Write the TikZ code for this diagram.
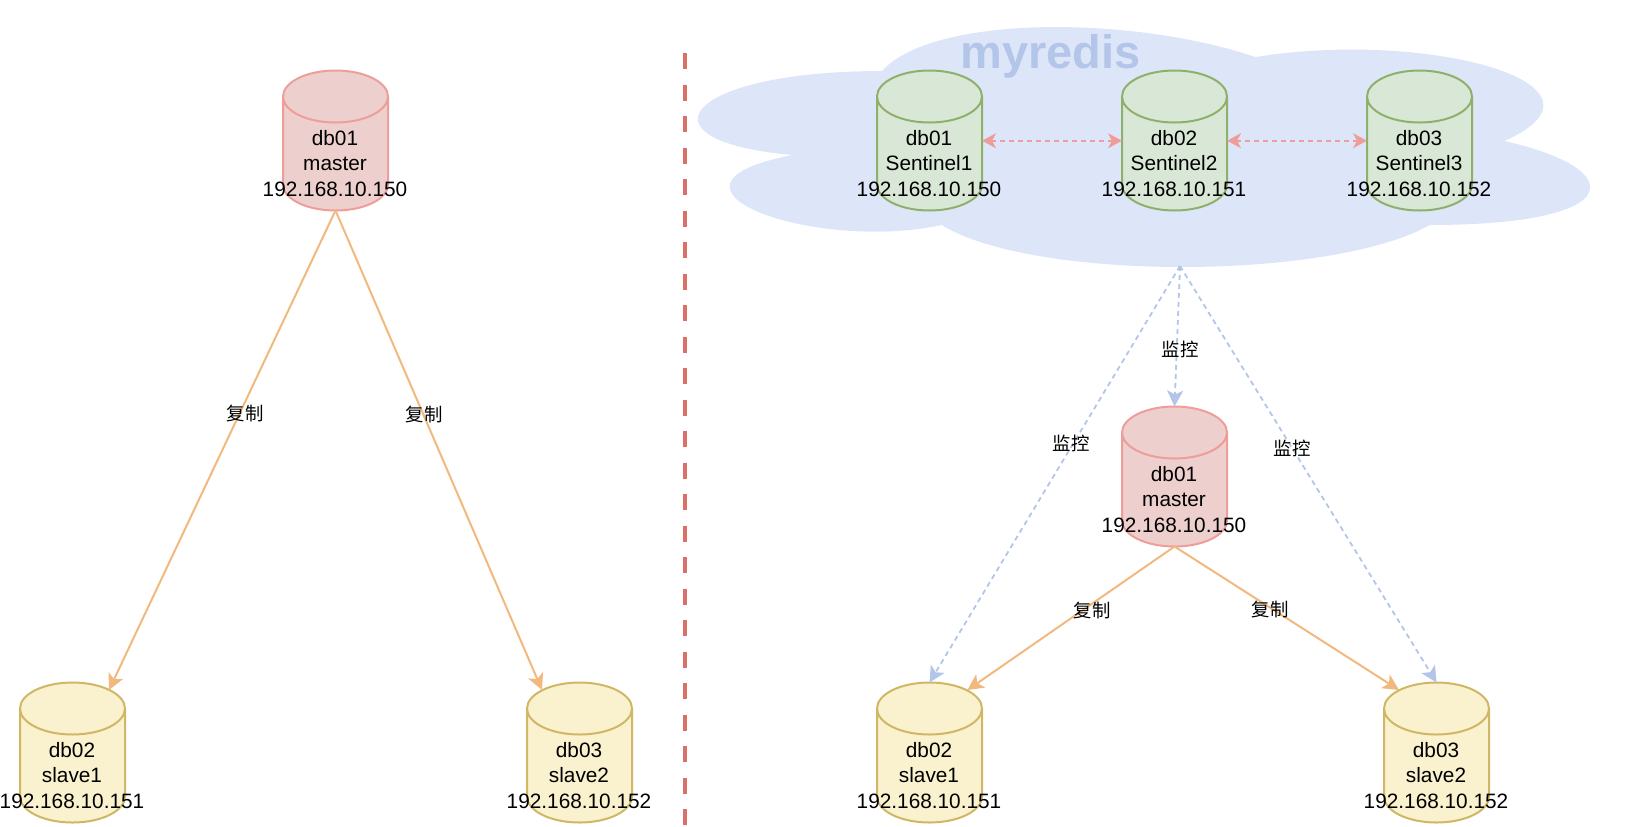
\documentclass[tikz,border=0pt]{standalone}
\usepackage{fontspec}
\setmainfont{Liberation Sans}
\newfontfamily\cjkfont{Noto Sans CJK SC}
\usetikzlibrary{arrows.meta,shapes.geometric}
\definecolor{cloudblue}{HTML}{DDE6F9}
\definecolor{titleblue}{HTML}{B3C5E8}
\definecolor{pinkfill}{HTML}{EDCFCD}
\definecolor{pinkline}{HTML}{EE9E9A}
\definecolor{greenfill}{HTML}{D9E8D6}
\definecolor{greenline}{HTML}{8FB06B}
\definecolor{yellowfill}{HTML}{FAF1CE}
\definecolor{yellowline}{HTML}{CFB765}
\definecolor{orangeline}{HTML}{F2B97E}
\definecolor{splitred}{HTML}{DB7068}
\tikzset{
  dbcyl/.style={cylinder, shape border rotate=90, shape aspect=1, draw, line width=1pt,
    inner sep=13pt, outer sep=0pt, minimum width=52.5pt, minimum height=70pt, anchor=shape center},
  dbmaster/.style={dbcyl, draw=pinkline, fill=pinkfill},
  dbsentinel/.style={dbcyl, draw=greenline, fill=greenfill},
  dbslave/.style={dbcyl, draw=yellowline, fill=yellowfill},
  dbtext/.style={align=center, inner sep=0pt, font=\fontsize{10.4}{12.65}\selectfont},
  edgetext/.style={inner sep=1pt, font=\cjkfont\fontsize{9.2}{11}\selectfont},
  copyline/.style={-{Stealth[length=8pt,width=8pt,inset=2pt]}, draw=orangeline, line width=1pt},
  watchline/.style={-{Stealth[length=8pt,width=8pt,inset=2pt]}, draw=titleblue, line width=0.9pt, dash pattern=on 2.5pt off 2pt},
  syncline/.style={{Stealth[length=7pt,width=7.5pt,inset=2pt]}-{Stealth[length=7pt,width=7.5pt,inset=2pt]}, draw=pinkline, line width=1pt, dash pattern=on 2.5pt off 2pt}
}
\begin{document}
\begin{tikzpicture}[x=0.5pt,y=-0.5pt]
            \useasboundingbox (0,0) rectangle (1626,826);
            \fill[cloudblue] (882,71) .. controls (683.2,71) and (633,141) .. (792.4,155)
                .. controls (633,186) and (812.3,253) .. (941.8,225)
                .. controls (1031.4,281) and (1330.2,281) .. (1429.8,225)
                .. controls (1629,225) and (1629,169) .. (1504.5,141)
                .. controls (1629,85) and (1429.8,29) .. (1255.5,57)
                .. controls (1131,15) and (931.8,15) .. (882,71);
            \node (title) at (1050.5,56) {\fontsize{23.5}{26}\selectfont\bfseries\color{titleblue}myredis};
            \coordinate (cloudtip) at (1180,266);
            \coordinate (splittop) at (685,53);
            \coordinate (splitend) at (685,826);
            \draw[splitred, line width=2.4pt, dash pattern=on 8pt off 7.75pt] (splittop) -- (splitend);

            \node[dbmaster] (leftmaster) at (335.5,140.5) {};
            \node[dbslave] (leftslave1) at (72.5,752.5) {};
            \node[dbslave] (leftslave2) at (579.5,752.5) {};
            \node[dbtext] (lefttext0) at (335,163.5) {db01\\master\\192.168.10.150};
            \node[dbtext] (lefttext1) at (72,775.5) {db02\\slave1\\192.168.10.151};
            \node[dbtext] (lefttext2) at (579,775.5) {db03\\slave2\\192.168.10.152};
            \draw[copyline] (leftmaster.south) -- ([xshift=18.25pt,yshift=-3.75pt]leftslave1.north);
            \draw[copyline] (leftmaster.south) -- ([xshift=-18.75pt,yshift=-3.75pt]leftslave2.north);
            \node[edgetext] (copy1) at (245,413) {复制};
            \node[edgetext] (copy2) at (424,414) {复制};

            \node[dbsentinel] (sentinel1) at (929.5,140.5) {};
            \node[dbsentinel] (sentinel2) at (1174.5,140.5) {};
            \node[dbsentinel] (sentinel3) at (1419.5,140.5) {};
            \node[dbtext] (sentext1) at (929,163.5) {db01\\Sentinel1\\192.168.10.150};
            \node[dbtext] (sentext2) at (1174,163.5) {db02\\Sentinel2\\192.168.10.151};
            \node[dbtext] (sentext3) at (1419,163.5) {db03\\Sentinel3\\192.168.10.152};
            \draw[syncline] ([yshift=12.25pt]sentinel1.east) -- ([yshift=12.25pt]sentinel2.west);
            \draw[syncline] ([yshift=12.25pt]sentinel2.east) -- ([yshift=12.25pt]sentinel3.west);

            \node[dbmaster] (master) at (1174.5,476.5) {};
            \node[dbslave] (slave1) at (929.5,752.5) {};
            \node[dbslave] (slave2) at (1436.5,752.5) {};
            \node[dbtext] (mastertext) at (1174,499.5) {db01\\master\\192.168.10.150};
            \node[dbtext] (slavetext1) at (929,775.5) {db02\\slave1\\192.168.10.151};
            \node[dbtext] (slavetext2) at (1436,775.5) {db03\\slave2\\192.168.10.152};
            \draw[watchline] (cloudtip) -- (master.north);
            \draw[watchline] (cloudtip) -- (slave1.north);
            \draw[watchline] (cloudtip) -- (slave2.north);
            \node[edgetext] (watch0) at (1180,349) {监控};
            \node[edgetext] (watch1) at (1071,443) {监控};
            \node[edgetext] (watch2) at (1292,448) {监控};
            \draw[copyline] (master.south) -- ([xshift=19pt,yshift=-3.75pt]slave1.north);
            \draw[copyline] (master.south) -- ([xshift=-18.75pt,yshift=-3.75pt]slave2.north);
            \node[edgetext] (copy3) at (1092,610) {复制};
            \node[edgetext] (copy4) at (1270,609) {复制};
\end{tikzpicture}
\end{document}
